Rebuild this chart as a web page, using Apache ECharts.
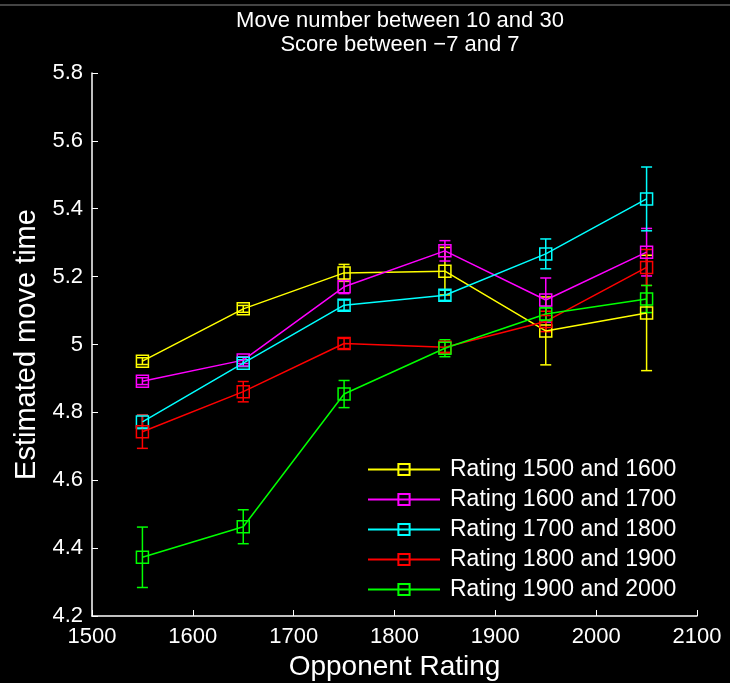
<!DOCTYPE html>
<html>
<head>
<meta charset="utf-8">
<script src="https://cdn.jsdelivr.net/npm/echarts@6/dist/echarts.min.js"></script>
<style>
  html, body { margin:0; padding:0; background:#000; }
  #main { width:730px; height:683px; }
</style>
</head>
<body>
<div id="main"></div>
<script>
var ratings = [1550, 1650, 1750, 1850, 1950, 2050];
var names = ['Rating 1500 and 1600', 'Rating 1600 and 1700', 'Rating 1700 and 1800',
             'Rating 1800 and 1900', 'Rating 1900 and 2000'];
var colors = ['#ffff00', '#ff00ff', '#00ffff', '#ff0000', '#00ff00'];

// mean move time per opponent rating bin
var r1500 = [4.951, 5.105, 5.211, 5.216, 5.040, 5.093];
var r1600 = [4.892, 4.954, 5.170, 5.276, 5.131, 5.272];
var r1700 = [4.772, 4.945, 5.116, 5.145, 5.267, 5.429];
var r1800 = [4.743, 4.861, 5.003, 4.992, 5.068, 5.227];
var r1900 = [4.373, 4.463, 4.854, 4.989, 5.090, 5.134];

// half-width of error bars
var e1500 = [0.010, 0.010, 0.025, 0.070, 0.100, 0.170];
var e1600 = [0.010, 0.010, 0.020, 0.030, 0.065, 0.070];
var e1700 = [0.020, 0.010, 0.015, 0.015, 0.044, 0.094];
var e1800 = [0.049, 0.030, 0.015, 0.015, 0.030, 0.053];
var e1900 = [0.089, 0.050, 0.040, 0.025, 0.020, 0.040];

var yTicks = [4.2, 5.8];
var xTicks = [1500, 2100];

var means = [r1500, r1600, r1700, r1800, r1900];
var errs = [e1500, e1600, e1700, e1800, e1900];

var chart = echarts.init(document.getElementById('main'));

function errorItem(color){
  return function(params, api){
    var x = api.value(0);
    var lo = api.coord([x, api.value(1)]);
    var hi = api.coord([x, api.value(2)]);
    var w = 5.5;
    var st = { stroke: color, lineWidth: 1.5 };
    return {
      type: 'group',
      children: [
        { type:'line', shape:{ x1:lo[0], y1:lo[1], x2:hi[0], y2:hi[1] }, style: st },
        { type:'line', shape:{ x1:lo[0]-w, y1:lo[1], x2:lo[0]+w, y2:lo[1] }, style: st },
        { type:'line', shape:{ x1:hi[0]-w, y1:hi[1], x2:hi[0]+w, y2:hi[1] }, style: st }
      ]
    };
  };
}

var series = [];
for (var i = 0; i < names.length; i++) {
  var pts = [], bars = [];
  for (var j = 0; j < ratings.length; j++) {
    pts.push([ratings[j], means[i][j]]);
    bars.push([ratings[j], means[i][j] - errs[i][j], means[i][j] + errs[i][j]]);
  }
  series.push({
    name: names[i] + ' err',
    type: 'custom',
    renderItem: errorItem(colors[i]),
    data: bars,
    color: colors[i],
    z: 2,
    silent: true
  });
  series.push({
    name: names[i],
    type: 'line',
    data: pts,
    color: colors[i],
    symbol: 'rect',
    symbolSize: 12,
    showAllSymbol: true,
    lineStyle: { color: colors[i], width: 1.5 },
    itemStyle: { color: 'rgba(0,0,0,0)', borderColor: colors[i], borderWidth: 1.5 },
    z: 3
  });
}

var font = 'Liberation Sans, Arial, sans-serif';

var option = {
  backgroundColor: '#000',
  animation: false,
  title: {
    text: 'Move number between 10 and 30\nScore between \u22127 and 7',
    left: 395,
    textAlign: 'center',
    top: 4,
    textStyle: { color: '#fff', fontSize: 22, fontWeight: 'normal', fontFamily: font, lineHeight: 24 }
  },
  legend: {
    data: names,
    orient: 'vertical',
    left: 367,
    top: 458,
    padding: 0,
    itemWidth: 72,
    itemHeight: 14,
    itemGap: 7,
    textStyle: { color: '#fff', fontSize: 23, fontFamily: font, padding: [0, 0, 0, 5] }
  },
  grid: { left: 92, right: 33, top: 73, bottom: 67, containLabel: false, outerBoundsMode: 'none' },
  xAxis: {
    type: 'value',
    min: xTicks[0], max: xTicks[1], interval: 100,
    name: 'Opponent Rating',
    nameLocation: 'middle',
    nameGap: 29,
    nameTextStyle: { color: '#fff', fontSize: 28, fontFamily: font },
    axisLine: { lineStyle: { color: '#fff', width: 1.5 } },
    axisTick: { inside: true, length: 6, lineStyle: { color: '#fff' } },
    axisLabel: { color: '#fff', fontSize: 22, fontFamily: font, margin: 10,
      formatter: function(v){ return String(v); } },
    splitLine: { show: false }
  },
  yAxis: {
    type: 'value',
    min: yTicks[0], max: yTicks[1], interval: 0.2,
    name: 'Estimated move time',
    nameLocation: 'middle',
    nameGap: 50,
    nameTextStyle: { color: '#fff', fontSize: 29, fontFamily: font },
    axisLine: { show: true, lineStyle: { color: '#fff', width: 1.5 } },
    axisTick: { show: true, inside: true, length: 6, lineStyle: { color: '#fff' } },
    axisLabel: { color: '#fff', fontSize: 22, fontFamily: font, margin: 9,
      formatter: function(v){ return Math.abs(v - 5) < 1e-9 ? '5' : v.toFixed(1); } },
    splitLine: { show: false }
  },
  graphic: [
    { type: 'line', shape: { x1: 0, y1: 5, x2: 730, y2: 5 }, style: { stroke: '#888', lineWidth: 1 } }
  ],
  series: series
};
chart.setOption(option);
</script>
</body>
</html>
